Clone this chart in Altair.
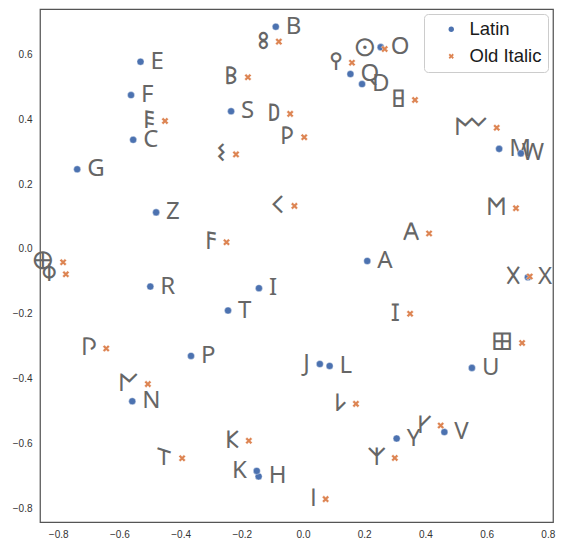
import altair as alt
import pandas as pd

# ---------------- data ----------------
SCRIPTS = ["Latin", "Old Italic"]
COLORS = ["#4c72b0", "#dd8452"]

LATIN_LETTERS = list("ABCDEFGHIJKLMNOPQRSTUVWXYZ")
LATIN_X = [0.210, -0.089, -0.555, 0.193, -0.531, -0.562, -0.738, -0.145, -0.144,
           0.055, -0.151, 0.087, 0.641, -0.558, 0.254, -0.366, 0.155, -0.499,
           -0.235, -0.245, 0.552, 0.462, 0.712, 0.735, 0.306, -0.480]
LATIN_Y = [-0.037, 0.686, 0.337, 0.509, 0.578, 0.475, 0.246, -0.702, -0.121,
           -0.355, -0.685, -0.361, 0.309, -0.470, 0.623, -0.330, 0.540, -0.116,
           0.425, -0.190, -0.367, -0.565, 0.295, -0.087, -0.585, 0.113]

OLD_ITALIC_LETTERS = [
    "\U00010300", "\U00010301", "\U00010302", "\U00010303", "\U00010304",
    "\U00010305", "\U00010306", "\U00010307", "\U00010308", "\U00010309",
    "\U0001030A", "\U0001030B", "\U0001030C", "\U0001030D", "\U0001030E",
    "\U0001030F", "\U00010310", "\U00010311", "\U00010312", "\U00010313",
    "\U00010314", "\U00010315", "\U00010316", "\U00010317", "\U00010318",
    "\U00010319", "\U0001031A",
]
OLD_ITALIC_X = [0.412, -0.180, -0.028, -0.042, -0.451, -0.250, 0.350, 0.366, -0.784,
                0.074, -0.177, 0.173, 0.633, -0.507, 0.716, 0.267, -0.643, 0.696,
                0.160, 0.004, -0.219, -0.395, 0.450, 0.741, -0.775, 0.300, -0.079]
OLD_ITALIC_Y = [0.048, 0.530, 0.133, 0.417, 0.395, 0.021, -0.200, 0.460, -0.041,
                -0.772, -0.592, -0.478, 0.374, -0.417, -0.290, 0.617, -0.307, 0.126,
                0.575, 0.345, 0.292, -0.646, -0.545, -0.085, -0.078, -0.645, 0.640]

X_TICKS = [-0.8, -0.6, -0.4, -0.2, 0.0, 0.2, 0.4, 0.6, 0.8]
Y_TICKS = [-0.8, -0.6, -0.4, -0.2, 0.0, 0.2, 0.4, 0.6]

df = pd.concat([
    pd.DataFrame({"x": LATIN_X, "y": LATIN_Y, "letter": LATIN_LETTERS, "script": "Latin"}),
    pd.DataFrame({"x": OLD_ITALIC_X, "y": OLD_ITALIC_Y, "letter": OLD_ITALIC_LETTERS,
                  "script": "Old Italic"}),
], ignore_index=True)

# ---------------- style ----------------
X_PATH = "M0.5,-1L1,-0.5L0.5,0L1,0.5L0.5,1L0,0.5L-0.5,1L-1,0.5L-0.5,0L-1,-0.5L-0.5,-1L0,-0.5Z"
LABEL_FONT = "Noto Sans"
LABEL_SIZE = 24
LABEL_COLOR = "#666666"

xscale = alt.Scale(domain=[-0.8595, 0.8170], nice=False, zero=False)
yscale = alt.Scale(domain=[-0.8426, 0.7407], nice=False, zero=False)

legend = alt.Legend(
    title=None, orient="none", legendX=384, legendY=5,
    labelFont="Liberation Sans", labelFontSize=18.5, labelColor="#1a1a1a",
    padding=6, rowPadding=8, symbolSize=28, symbolStrokeWidth=0,
    symbolOffset=12, labelOffset=9,
    fillColor="white", strokeColor="#cccccc", cornerRadius=4,
)

enc_x = alt.X("x:Q", scale=xscale, title=None,
              axis=alt.Axis(values=X_TICKS, format=".1f", grid=False, ticks=False,
                            domain=False, labelPadding=7))
enc_y = alt.Y("y:Q", scale=yscale, title=None,
              axis=alt.Axis(values=Y_TICKS, format=".1f", grid=False, ticks=False,
                            domain=False, labelPadding=8))

base = alt.Chart(df)

points = base.mark_point(filled=True, opacity=1, size=50, stroke="white",
                         strokeWidth=0.4).encode(
    x=enc_x, y=enc_y,
    color=alt.Color("script:N", scale=alt.Scale(domain=SCRIPTS, range=COLORS), legend=legend),
    shape=alt.Shape("script:N", scale=alt.Scale(domain=SCRIPTS, range=["circle", X_PATH]),
                    legend=legend),
)

text_kw = dict(baseline="middle", font=LABEL_FONT, fontSize=LABEL_SIZE, color=LABEL_COLOR)

latin_right = base.transform_filter(
    "datum.script == 'Latin' && indexof(['J','K','W'], datum.letter) < 0"
).mark_text(align="left", dx=10, **text_kw).encode(x="x:Q", y="y:Q", text="letter:N")

latin_left = base.transform_filter(
    "datum.script == 'Latin' && indexof(['J','K'], datum.letter) >= 0"
).mark_text(align="right", dx=-10, **text_kw).encode(x="x:Q", y="y:Q", text="letter:N")

latin_tight = base.transform_filter(
    "datum.script == 'Latin' && datum.letter == 'W'"
).mark_text(align="left", dx=1, **text_kw).encode(x="x:Q", y="y:Q", text="letter:N")

old_italic = base.transform_filter(
    "datum.script == 'Old Italic'"
).mark_text(align="right", dx=-9, **text_kw).encode(x="x:Q", y="y:Q", text="letter:N")

chart = alt.layer(latin_right, latin_left, latin_tight, old_italic, points).properties(
    width=513, height=513,
    autosize=alt.AutoSizeParams(type="none"),
    padding={"left": 32, "top": 1, "right": 3, "bottom": 20},
).configure_view(
    stroke="#555555", strokeWidth=1.25
).configure_axis(
    labelFont="Liberation Sans", labelFontSize=10, labelColor="#333333"
)

chart.save("out.html", embed_options={"renderer": "svg", "actions": False})
